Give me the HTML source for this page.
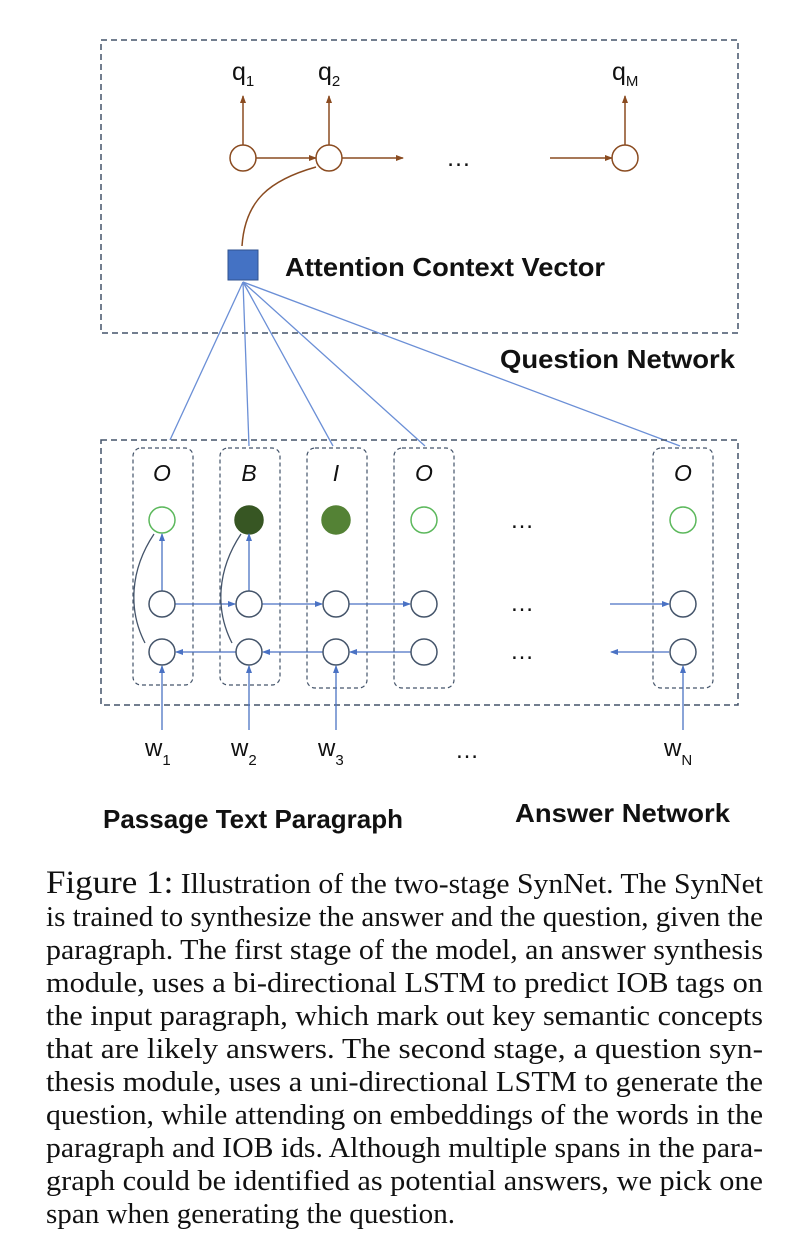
<!DOCTYPE html>
<html><head><meta charset="utf-8"><style>
html,body{margin:0;padding:0;background:#fff;}
svg{display:block;}
</style></head><body>
<svg width="800" height="1255" viewBox="0 0 800 1255" xmlns="http://www.w3.org/2000/svg">
<defs>
<marker id="ab" markerWidth="8" markerHeight="8" refX="7" refY="4" orient="auto" markerUnits="userSpaceOnUse"><path d="M0,1 L8,4 L0,7 z" fill="#4a72c4"/></marker>
<marker id="ao" markerWidth="8" markerHeight="8" refX="7" refY="4" orient="auto" markerUnits="userSpaceOnUse"><path d="M0,1 L8,4 L0,7 z" fill="#8a4b20"/></marker>
</defs>
<rect width="800" height="1255" fill="#fff"/>
<rect x="101" y="40" width="637" height="293" fill="none" stroke="#44546a" stroke-width="1.5" stroke-dasharray="6,4"/>
<g stroke="#8a4b20" stroke-width="1.5" fill="none">
<circle cx="243" cy="158" r="13" fill="#fff"/>
<circle cx="329" cy="158" r="13" fill="#fff"/>
<circle cx="625" cy="158" r="13" fill="#fff"/>
<line x1="243" y1="145" x2="243" y2="96" marker-end="url(#ao)"/>
<line x1="329" y1="145" x2="329" y2="96" marker-end="url(#ao)"/>
<line x1="625" y1="145" x2="625" y2="96" marker-end="url(#ao)"/>
<line x1="256" y1="158" x2="316" y2="158" marker-end="url(#ao)"/>
<line x1="342" y1="158" x2="403" y2="158" marker-end="url(#ao)"/>
<line x1="550" y1="158" x2="612" y2="158" marker-end="url(#ao)"/>
<path d="M242,246 C245,200 270,180 316,167"/>
</g>
<g font-family="Liberation Sans, sans-serif" font-size="25" fill="#111">
<text x="232" y="80">q<tspan font-size="15" dy="6">1</tspan></text>
<text x="318" y="80">q<tspan font-size="15" dy="6">2</tspan></text>
<text x="612" y="80">q<tspan font-size="15" dy="6">M</tspan></text>
<text x="446" y="166">…</text>
</g>
<rect x="228" y="250" width="30" height="30" fill="#4472c4" stroke="#2f528f"/>
<text x="285" y="276" font-family="Liberation Sans, sans-serif" font-weight="bold" font-size="26" fill="#111" textLength="320" lengthAdjust="spacingAndGlyphs">Attention Context Vector</text>
<text x="500" y="368" font-family="Liberation Sans, sans-serif" font-weight="bold" font-size="26" fill="#111" textLength="235" lengthAdjust="spacingAndGlyphs">Question Network</text>
<g stroke="#6b8fd6" stroke-width="1.3" fill="none">
<line x1="170" y1="440" x2="243" y2="282"/>
<line x1="249" y1="446" x2="243" y2="282"/>
<line x1="333" y1="446" x2="243" y2="282"/>
<line x1="425" y1="446" x2="243" y2="282"/>
<line x1="680" y1="446" x2="243" y2="282"/>
</g>
<rect x="101" y="440" width="637" height="265" fill="none" stroke="#44546a" stroke-width="1.5" stroke-dasharray="6,4"/>
<g fill="none" stroke="#44546a" stroke-width="1.2" stroke-dasharray="4,3">
<rect x="133" y="448" width="60" height="237" rx="8"/>
<rect x="220" y="448" width="60" height="237" rx="8"/>
<rect x="307" y="448" width="60" height="240" rx="8"/>
<rect x="394" y="448" width="60" height="240" rx="8"/>
<rect x="653" y="448" width="60" height="240" rx="8"/>
</g>
<g font-family="Liberation Sans, sans-serif" font-style="italic" font-size="23" fill="#111" text-anchor="middle">
<text x="162" y="481">O</text><text x="249" y="481">B</text><text x="336" y="481">I</text><text x="424" y="481">O</text><text x="683" y="481">O</text>
</g>
<g stroke-width="1.5">
<circle cx="162" cy="520" r="13" fill="#fff" stroke="#5cb85c"/>
<circle cx="249" cy="520" r="14" fill="#375623" stroke="#375623"/>
<circle cx="336" cy="520" r="14" fill="#548235" stroke="#548235"/>
<circle cx="424" cy="520" r="13" fill="#fff" stroke="#5cb85c"/>
<circle cx="683" cy="520" r="13" fill="#fff" stroke="#5cb85c"/>
</g>
<g stroke="#4a72c4" stroke-width="1.3" fill="none">
<line x1="175" y1="604" x2="235" y2="604" marker-end="url(#ab)"/>
<line x1="262" y1="604" x2="322" y2="604" marker-end="url(#ab)"/>
<line x1="349" y1="604" x2="410" y2="604" marker-end="url(#ab)"/>
<line x1="610" y1="604" x2="669" y2="604" marker-end="url(#ab)"/>
<line x1="236" y1="652" x2="176" y2="652" marker-end="url(#ab)"/>
<line x1="323" y1="652" x2="263" y2="652" marker-end="url(#ab)"/>
<line x1="411" y1="652" x2="350" y2="652" marker-end="url(#ab)"/>
<line x1="669" y1="652" x2="611" y2="652" marker-end="url(#ab)"/>
<line x1="162" y1="591" x2="162" y2="534" marker-end="url(#ab)"/>
<line x1="249" y1="591" x2="249" y2="534" marker-end="url(#ab)"/>
<line x1="162" y1="730" x2="162" y2="666" marker-end="url(#ab)"/>
<line x1="249" y1="730" x2="249" y2="666" marker-end="url(#ab)"/>
<line x1="336" y1="730" x2="336" y2="666" marker-end="url(#ab)"/>
<line x1="683" y1="730" x2="683" y2="666" marker-end="url(#ab)"/>
</g>
<g stroke="#44546a" stroke-width="1.3" fill="none">
<path d="M145,643 C128,610 130,570 154,534"/>
<path d="M232,643 C215,610 217,570 241,534"/>
</g>
<g stroke="#44546a" stroke-width="1.5" fill="#fff">
<circle cx="162" cy="604" r="13"/><circle cx="249" cy="604" r="13"/><circle cx="336" cy="604" r="13"/><circle cx="424" cy="604" r="13"/><circle cx="683" cy="604" r="13"/>
<circle cx="162" cy="652" r="13"/><circle cx="249" cy="652" r="13"/><circle cx="336" cy="652" r="13"/><circle cx="424" cy="652" r="13"/><circle cx="683" cy="652" r="13"/>
</g>
<g font-family="Liberation Sans, sans-serif" font-size="24" fill="#111">
<text x="510" y="528">…</text><text x="510" y="611">…</text><text x="510" y="659">…</text>
<text x="145" y="756">w<tspan font-size="15" dy="9">1</tspan></text>
<text x="231" y="756">w<tspan font-size="15" dy="9">2</tspan></text>
<text x="318" y="756">w<tspan font-size="15" dy="9">3</tspan></text>
<text x="455" y="758">…</text>
<text x="664" y="756">w<tspan font-size="15" dy="9">N</tspan></text>
</g>
<g font-family="Liberation Sans, sans-serif" font-weight="bold" font-size="26" fill="#111">
<text x="103" y="828" textLength="300" lengthAdjust="spacingAndGlyphs">Passage Text Paragraph</text>
<text x="515" y="822" textLength="215" lengthAdjust="spacingAndGlyphs">Answer Network</text>
</g>
<g font-family="Liberation Serif, serif" font-size="28" fill="#111">
<text x="46" y="893" textLength="717" lengthAdjust="spacingAndGlyphs"><tspan font-size="33">Figure 1:</tspan> Illustration of the two-stage SynNet. The SynNet</text>
<text x="46" y="926" textLength="717" lengthAdjust="spacingAndGlyphs">is trained to synthesize the answer and the question, given the</text>
<text x="46" y="959" textLength="717" lengthAdjust="spacingAndGlyphs">paragraph.  The first stage of the model, an answer synthesis</text>
<text x="46" y="992" textLength="717" lengthAdjust="spacingAndGlyphs">module, uses a bi-directional LSTM to predict IOB tags on</text>
<text x="46" y="1025" textLength="717" lengthAdjust="spacingAndGlyphs">the input paragraph, which mark out key semantic concepts</text>
<text x="46" y="1058" textLength="717" lengthAdjust="spacingAndGlyphs">that are likely answers.  The second stage, a question syn-</text>
<text x="46" y="1091" textLength="717" lengthAdjust="spacingAndGlyphs">thesis module, uses a uni-directional LSTM to generate the</text>
<text x="46" y="1124" textLength="717" lengthAdjust="spacingAndGlyphs">question, while attending on embeddings of the words in the</text>
<text x="46" y="1157" textLength="717" lengthAdjust="spacingAndGlyphs">paragraph and IOB ids. Although multiple spans in the para-</text>
<text x="46" y="1190" textLength="717" lengthAdjust="spacingAndGlyphs">graph could be identified as potential answers, we pick one</text>
<text x="46" y="1223" textLength="409" lengthAdjust="spacingAndGlyphs">span when generating the question.</text>
</g>
</svg>
</body></html>
